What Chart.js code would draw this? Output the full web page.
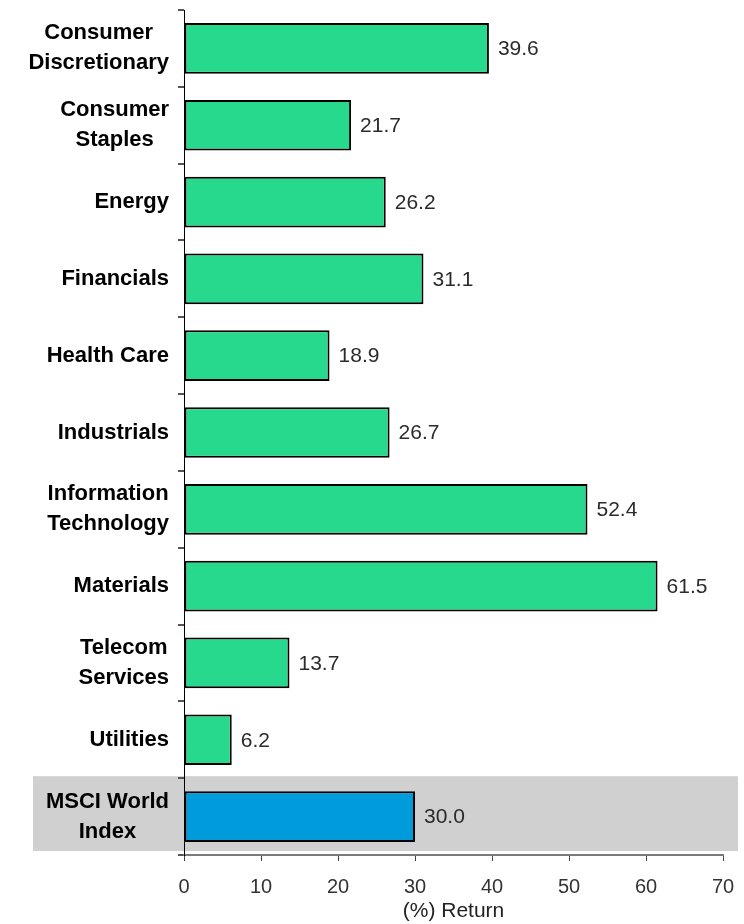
<!DOCTYPE html>
<html>
<head>
<meta charset="utf-8">
<script src="https://cdn.jsdelivr.net/npm/chart.js@4"></script>
<style>
  html, body { margin: 0; padding: 0; background: #fff; }
  #wrap { width: 744px; height: 924px; }
</style>
</head>
<body>
<div id="wrap"><canvas id="myChart" width="744" height="924"></canvas></div>
<script>
// sector returns, last row is the index benchmark
const sectors = [
    ['Consumer', 'Discretionary'],
    ['Consumer', 'Staples'],
    'Energy',
    'Financials',
    'Health Care',
    'Industrials',
    ['Information', 'Technology'],
    'Materials',
    ['Telecom', 'Services'],
    'Utilities',
    ['MSCI World', 'Index']
];
const returns = [39.6, 21.7, 26.2, 31.1, 18.9, 26.7, 52.4, 61.5, 13.7, 6.2, 30.0];
const xTicks = [0, 10, 20, 30, 40, 50, 60, 70];

const GREEN = '#27d98d';
const BLUE = '#009bdb';
const FONT = "'Liberation Sans', Arial, Helvetica, sans-serif";

let colors = returns.map((v, i) => i == returns.length - 1 ? BLUE : GREEN);

// gray band behind the benchmark row
const bandPlugin = {
    id: 'band',
    beforeDraw(chart) {
        const y = chart.scales.y;
        const ctx = chart.ctx;
        const step = (y.bottom - y.top) / sectors.length;
        const c = y.getPixelForValue(sectors.length - 1);
        ctx.save();
        ctx.fillStyle = '#d0d0d0';
        ctx.fillRect(33, c - step / 2 - 2, chart.width - 39, step - 2);
        ctx.restore();
    }
};

// category names, multi-line ones centred on their widest line
const sectorLabels = {
    id: 'sectorLabels',
    afterDraw(chart) {
        const y = chart.scales.y;
        const ctx = chart.ctx;
        ctx.save();
        ctx.font = 'bold 22px ' + FONT;
        ctx.fillStyle = '#000';
        ctx.textAlign = 'center';
        ctx.textBaseline = 'middle';
        const right = y.right - 15;
        const lh = 30;
        sectors.forEach((name, i) => {
            let lines = Array.isArray(name) ? name : [name];
            let w = Math.max(...lines.map((l) => ctx.measureText(l).width));
            let cx = right - w / 2;
            let cy = y.getPixelForValue(i) - (lines.length - 1) * lh / 2;
            lines.forEach((l, k) => ctx.fillText(l, cx, cy + k * lh));
        });
        ctx.restore();
    }
};

// value printed at the end of each bar
const valueLabels = {
    id: 'valueLabels',
    afterDatasetsDraw(chart) {
        const ctx = chart.ctx;
        const meta = chart.getDatasetMeta(0);
        ctx.save();
        ctx.font = '21px ' + FONT;
        ctx.fillStyle = '#2b2b2b';
        ctx.textAlign = 'left';
        ctx.textBaseline = 'middle';
        meta.data.forEach((bar, i) => {
            ctx.fillText(returns[i].toFixed(1), bar.x + 9, bar.y + 1);
        });
        ctx.restore();
    }
};

const ctx = document.getElementById('myChart');
new Chart(ctx, {
    type: 'bar',
    data: {
        labels: sectors,
        datasets: [{
            data: returns,
            backgroundColor: colors,
            borderColor: '#000',
            borderWidth: 2,
            borderSkipped: false,
            barPercentage: 0.66,
            categoryPercentage: 1
        }]
    },
    options: {
        indexAxis: 'y',
        responsive: false,
        animation: false,
        layout: {
            padding: { left: 0, right: 21, top: 10, bottom: 0 }
        },
        plugins: {
            legend: { display: false },
            tooltip: { enabled: false }
        },
        scales: {
            x: {
                min: 0,
                max: 70,
                afterBuildTicks: (scale) => {
                    scale.ticks = xTicks.map((v) => ({ value: v }));
                },
                afterFit: (scale) => {
                    scale.height = 69;
                    scale.paddingLeft = 0;
                    scale.paddingRight = 0;
                },
                border: { color: '#7a7a7a', width: 2 },
                grid: {
                    drawOnChartArea: false,
                    drawTicks: true,
                    tickLength: 6,
                    color: '#444',
                    lineWidth: 1
                },
                ticks: {
                    padding: 14,
                    color: '#333',
                    font: { family: FONT, size: 20 },
                    maxRotation: 0
                },
                title: {
                    display: true,
                    text: '(%) Return',
                    color: '#222',
                    padding: { top: 0, bottom: 0 },
                    font: { family: FONT, size: 21 }
                }
            },
            y: {
                afterFit: (scale) => { scale.width = 184; },
                border: { color: '#000', width: 1 },
                grid: {
                    offset: true,
                    drawOnChartArea: false,
                    drawTicks: true,
                    tickLength: 6,
                    color: '#555',
                    lineWidth: 2
                },
                ticks: { display: false }
            }
        }
    },
    plugins: [bandPlugin, sectorLabels, valueLabels]
});
</script>
</body>
</html>
